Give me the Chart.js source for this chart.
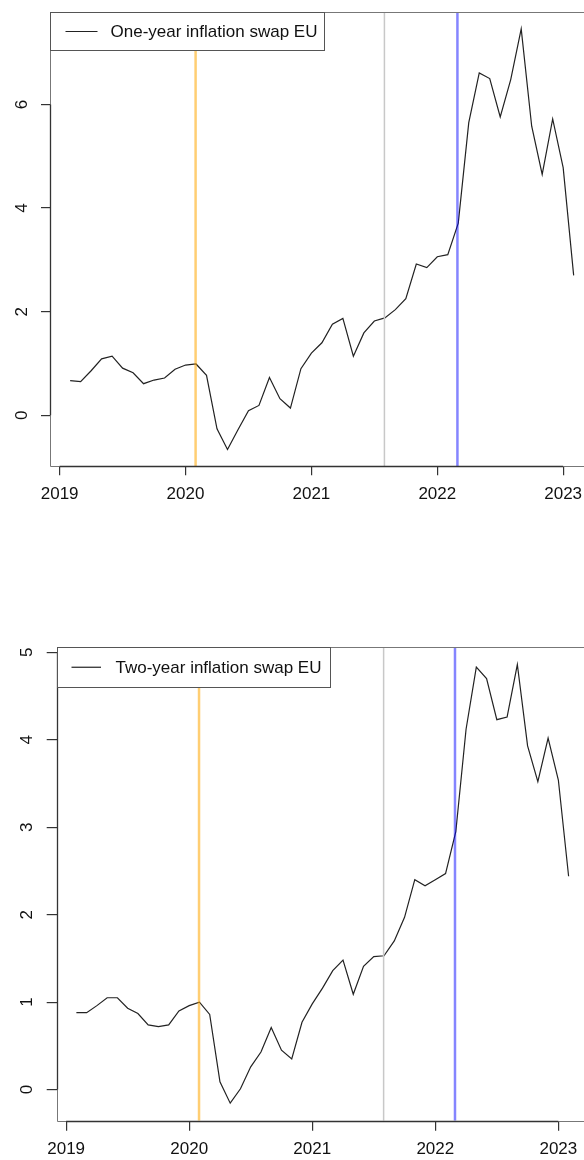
<!DOCTYPE html>
<html>
<head>
<meta charset="utf-8">
<script src="https://cdn.jsdelivr.net/npm/chart.js@4.4.1/dist/chart.umd.min.js"></script>
<style>
  html, body { margin: 0; padding: 0; background: #fff; overflow: hidden; width: 584px; height: 1160px; }
  .panel { position: absolute; left: 0; }
  #p1 { top: 0; }
  #p2 { top: 600px; }
  canvas { display: block; }
</style>
</head>
<body>
<div class="panel" id="p1"><canvas id="c1" width="600" height="520"></canvas></div>
<div class="panel" id="p2"><canvas id="c2" width="600" height="560"></canvas></div>
<script>
// Monthly observations, Feb 2019 - Feb 2023
const months = [
  '2019-02','2019-03','2019-04','2019-05','2019-06','2019-07','2019-08','2019-09','2019-10','2019-11','2019-12',
  '2020-01','2020-02','2020-03','2020-04','2020-05','2020-06','2020-07','2020-08','2020-09','2020-10','2020-11','2020-12',
  '2021-01','2021-02','2021-03','2021-04','2021-05','2021-06','2021-07','2021-08','2021-09','2021-10','2021-11','2021-12',
  '2022-01','2022-02','2022-03','2022-04','2022-05','2022-06','2022-07','2022-08','2022-09','2022-10','2022-11','2022-12',
  '2023-01','2023-02'
];

const swapOneYear = [
  0.67, 0.65, 0.86, 1.09, 1.14, 0.91, 0.82, 0.61, 0.68, 0.72, 0.89,
  0.97, 0.99, 0.77, -0.26, -0.66, -0.28, 0.09, 0.19, 0.73, 0.32, 0.14, 0.90,
  1.20, 1.40, 1.76, 1.87, 1.14, 1.59, 1.82, 1.88, 2.04, 2.25, 2.92, 2.85,
  3.06, 3.10, 3.71, 5.65, 6.61, 6.50, 5.76, 6.48, 7.46, 5.58, 4.65, 5.72,
  4.78, 2.70
];

const swapTwoYear = [
  0.88, 0.88, 0.96, 1.05, 1.05, 0.93, 0.87, 0.74, 0.72, 0.74, 0.90,
  0.96, 1.00, 0.86, 0.09, -0.155, 0.01, 0.26, 0.43, 0.71, 0.45, 0.35, 0.77,
  0.98, 1.16, 1.36, 1.48, 1.09, 1.41, 1.52, 1.53, 1.70, 1.97, 2.40, 2.33,
  2.40, 2.47, 2.95, 4.12, 4.83, 4.70, 4.23, 4.26, 4.86, 3.93, 3.52, 4.02,
  3.54, 2.44
];

const seriesLabels = ['One-year inflation swap EU', 'Two-year inflation swap EU'];

// Event dates (decimal years) marked with vertical lines
const eventDates = [2020.08, 2021.58, 2022.16];

const xTickValues = [2019, 2020, 2021, 2022, 2023];
const yTickValuesOne = [0, 2, 4, 6];
const yTickValuesTwo = [0, 1, 2, 3, 4, 5];

// ---- drawing setup ----
const eventColors = ['rgba(255,165,0,0.55)', '#c8c8c8', 'rgba(0,0,255,0.48)'];
const eventWidths = [2.5, 1.5, 2.5];
const FONT_FAMILY = "'Liberation Sans', Arial, Helvetica, sans-serif";
const TEXT = '#111';

function decimalYear(m) {
  const [y, mo] = m.split('-').map(Number);
  return y + (mo - 1) / 12;
}

// axis limits padded by 4% of the data range on each side
function paddedRange(vals) {
  const lo = Math.min(...vals), hi = Math.max(...vals), r = hi - lo;
  return [lo - 0.04 * r, hi + 0.04 * r];
}

const xs = months.map(decimalYear);
const [xMin, xMax] = paddedRange(xs);

// plot frame, axis spines and boxed legend
const framePlugin = {
  id: 'frame',
  afterDatasetsDraw(chart, args, opts) {
    const { ctx, chartArea: a, scales: { x, y } } = chart;
    ctx.save();
    // frame
    ctx.strokeStyle = '#777';
    ctx.lineWidth = 1;
    const L = Math.round(a.left) + 0.5, T = Math.round(a.top) + 0.5;
    const R = Math.round(a.right) + 0.5, B = Math.round(a.bottom) + 0.5;
    ctx.beginPath();
    ctx.moveTo(R, T); ctx.lineTo(L, T); ctx.lineTo(L, B); ctx.lineTo(R, B);
    ctx.stroke();
    // spines between the outer ticks
    ctx.strokeStyle = '#333';
    ctx.lineWidth = 1.3;
    const yt = y.ticks, xt = x.ticks;
    ctx.beginPath();
    ctx.moveTo(L, y.getPixelForValue(yt[0].value));
    ctx.lineTo(L, y.getPixelForValue(yt[yt.length - 1].value));
    ctx.moveTo(x.getPixelForValue(xt[0].value), B);
    ctx.lineTo(x.getPixelForValue(xt[xt.length - 1].value), B);
    ctx.stroke();

    // legend
    const ds = chart.data.datasets[0];
    ctx.font = '17px ' + FONT_FAMILY;
    const tw = ctx.measureText(ds.label).width;
    const lw = opts.padL + opts.sample + opts.gap + tw + opts.padR;
    const lh = opts.height;
    ctx.fillStyle = '#fff';
    ctx.fillRect(L, T, lw, lh);
    ctx.strokeStyle = '#555';
    ctx.lineWidth = 1;
    ctx.strokeRect(L, T, Math.round(lw), Math.round(lh));
    const my = T + lh / 2;
    ctx.strokeStyle = ds.borderColor;
    ctx.lineWidth = ds.borderWidth;
    ctx.beginPath();
    ctx.moveTo(L + opts.padL, my);
    ctx.lineTo(L + opts.padL + opts.sample, my);
    ctx.stroke();
    ctx.fillStyle = TEXT;
    ctx.textBaseline = 'middle';
    ctx.textAlign = 'left';
    ctx.fillText(ds.label, L + opts.padL + opts.sample + opts.gap, my + 1);
    ctx.restore();
  }
};

function buildChart(canvasId, values, label, yTicks, g) {
  const [yMin, yMax] = paddedRange(values);
  const canvas = document.getElementById(canvasId);
  const H = canvas.height;

  const datasets = [{
    label: label,
    data: xs.map((x, i) => ({ x: x, y: values[i] })),
    borderColor: '#222',
    borderWidth: 1.2,
    pointRadius: 0,
    tension: 0,
    fill: false,
    order: 1
  }];
  eventDates.forEach((d, i) => {
    datasets.push({
      label: 'event ' + (i + 1),
      data: [{ x: d, y: yMin }, { x: d, y: yMax }],
      borderColor: eventColors[i],
      borderWidth: eventWidths[i],
      pointRadius: 0,
      fill: false,
      order: 0
    });
  });

  return new Chart(canvas, {
    type: 'line',
    data: { datasets },
    plugins: [framePlugin],
    options: {
      responsive: false,
      animation: false,
      events: [],
      layout: { padding: { left: 0, top: g.top, right: g.right, bottom: 0 } },
      plugins: {
        legend: { display: false },
        tooltip: { enabled: false },
        frame: { padL: g.legPadL, sample: g.legSample, gap: g.legGap, padR: g.legPadR, height: g.legH }
      },
      scales: {
        x: {
          type: 'linear',
          min: xMin,
          max: xMax,
          afterBuildTicks: s => { s.ticks = xTickValues.map(v => ({ value: v })); },
          afterFit: s => { s.height = H - g.bottom; s.paddingLeft = 0; s.paddingRight = 0; },
          grid: { display: true, drawOnChartArea: false, drawTicks: true, tickLength: g.tick, color: '#333', lineWidth: 1.2 },
          border: { display: false },
          ticks: {
            autoSkip: false, minRotation: 0, maxRotation: 0, padding: g.xPad,
            color: TEXT, font: { family: FONT_FAMILY, size: 17 },
            callback: v => String(v)
          }
        },
        y: {
          type: 'linear',
          min: yMin,
          max: yMax,
          afterBuildTicks: s => { s.ticks = yTicks.map(v => ({ value: v })); },
          afterFit: s => { s.width = g.left; s.paddingTop = 0; s.paddingBottom = 0; },
          grid: { display: true, drawOnChartArea: false, drawTicks: true, tickLength: g.tick, color: '#333', lineWidth: 1.2 },
          border: { display: false },
          ticks: {
            minRotation: 90, maxRotation: 90, crossAlign: 'center', padding: g.yPad,
            color: TEXT, font: { family: FONT_FAMILY, size: 17 },
            callback: v => String(v)
          }
        }
      }
    }
  });
}

buildChart('c1', swapOneYear, seriesLabels[0], yTickValuesOne, {
  top: 12, right: 6.2, left: 50, bottom: 466.3, tick: 9, xPad: 9, yPad: 14.3,
  legPadL: 15, legSample: 32, legGap: 13, legPadR: 7, legH: 38
});

buildChart('c2', swapTwoYear, seriesLabels[1], yTickValuesTwo, {
  top: 47, right: 11.7, left: 56.7, bottom: 520.7, tick: 10, xPad: 8.5, yPad: 15,
  legPadL: 14, legSample: 29.5, legGap: 14.5, legPadR: 9, legH: 39.5
});
</script>
</body>
</html>
